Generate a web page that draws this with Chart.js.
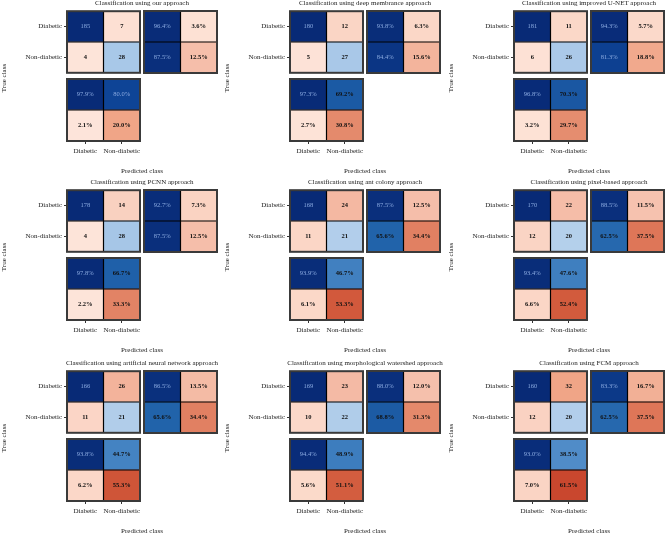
<!DOCTYPE html>
<html>
<head>
<meta charset="utf-8">
<script src="https://cdn.jsdelivr.net/npm/chart.js@4/dist/chart.umd.min.js"></script>
<style>
  html, body { margin: 0; padding: 0; background: #fff; }
  #fig { position: relative; width: 665px; height: 536px; overflow: hidden; font-family: 'Liberation Serif', serif; color: #222; }
  #fig canvas { position: absolute; }
  .lbl { position: absolute; white-space: nowrap; font-size: 7px; line-height: 1; transform: translate(-50%, -50%); }
  .rot { transform: translate(-50%, -50%) rotate(-90deg); }
</style>
</head>
<body>
<div id="fig"></div>
<script>
// data, one entry per panel (left to right, top to bottom)
const titles = [
  'Classification using our approach',
  'Classification using deep membrance approach',
  'Classification using improved U-NET approach',
  'Classification using PCNN approach',
  'Classification using ant colony approach',
  'Classification using pixel-based approach',
  'Classification using artificial neural network approach',
  'Classification using morphological watershed approach',
  'Classification using FCM approach'
];
const classLabels = ['Diabetic', 'Non-diabetic'];

// confusion counts
const trueDiabPredDiab = [185, 180, 181, 178, 168, 170, 166, 169, 160];
const trueDiabPredNon  = [7, 12, 11, 14, 24, 22, 26, 23, 32];
const trueNonPredDiab  = [4, 5, 6, 4, 11, 12, 11, 10, 12];
const trueNonPredNon   = [28, 27, 26, 28, 21, 20, 21, 22, 20];

// row summary (%)
const rowCorrectDiab = [96.4, 93.8, 94.3, 92.7, 87.5, 88.5, 86.5, 88.0, 83.3];
const rowWrongDiab   = [3.6, 6.3, 5.7, 7.3, 12.5, 11.5, 13.5, 12.0, 16.7];
const rowCorrectNon  = [87.5, 84.4, 81.3, 87.5, 65.6, 62.5, 65.6, 68.8, 62.5];
const rowWrongNon    = [12.5, 15.6, 18.8, 12.5, 34.4, 37.5, 34.4, 31.3, 37.5];

// column summary (%)
const colCorrectDiab = [97.9, 97.3, 96.8, 97.8, 93.9, 93.4, 93.8, 94.4, 93.0];
const colCorrectNon  = [80.0, 69.2, 70.3, 66.7, 46.7, 47.6, 44.7, 48.9, 38.5];
const colWrongDiab   = [2.1, 2.7, 3.2, 2.2, 6.1, 6.6, 6.2, 5.6, 7.0];
const colWrongNon    = [20.0, 30.8, 29.7, 33.3, 53.3, 52.4, 55.3, 51.1, 61.5];

// layout
const FONT = "'Liberation Serif', serif";
const panelX = [0, 223, 447];
const panelY = [0, 179, 360];

// colour ramps
const blueStops = [[0, [222, 235, 247]], [0.15, [169, 200, 232]], [0.385, [80, 140, 200]], [0.47, [64, 128, 192]],
  [0.66, [32, 98, 170]], [0.70, [26, 88, 162]], [0.80, [14, 68, 150]], [0.86, [10, 48, 125]], [1, [8, 42, 118]]];
const redStops = [[0, [252, 232, 226]], [0.04, [253, 224, 210]], [0.125, [245, 190, 170]], [0.20, [240, 165, 135]],
  [0.31, [228, 138, 108]], [0.375, [222, 118, 88]], [0.53, [210, 90, 60]], [0.62, [200, 70, 45]], [1, [160, 20, 30]]];

function ramp(stops, t) {
  t = Math.max(0, Math.min(1, t));
  for (let i = 1; i < stops.length; i++) {
    if (t <= stops[i][0]) {
      const [t0, c0] = stops[i - 1], [t1, c1] = stops[i];
      const f = (t - t0) / (t1 - t0);
      return 'rgb(' + c0.map((c, k) => Math.round(c + (c1[k] - c) * f)).join(',') + ')';
    }
  }
  return 'rgb(' + stops[stops.length - 1][1].join(',') + ')';
}

function cell(value, kind, t, text) {
  const dark = kind === 'blue' && t >= 0.75;
  return {
    text: text,
    color: ramp(kind === 'blue' ? blueStops : redStops, t),
    ink: dark ? '#8aaae0' : '#111',
    bold: !dark
  };
}
const pct = v => v.toFixed(1) + '%';

// draws cell texts, inner lines and frame
const cellPlugin = {
  id: 'cells',
  afterDatasetsDraw(chart) {
    const ctx = chart.ctx, area = chart.chartArea;
    const xs = chart.scales.x, ys = chart.scales.y;
    ctx.save();
    ctx.strokeStyle = '#000';
    ctx.lineWidth = 1.2;
    const mx = xs.getPixelForValue(1);
    const my = (ys.getPixelForValue(0) + ys.getPixelForValue(1)) / 2;
    ctx.beginPath();
    ctx.moveTo(mx, area.top); ctx.lineTo(mx, area.bottom);
    ctx.moveTo(area.left, my); ctx.lineTo(area.right, my);
    ctx.stroke();
    ctx.strokeStyle = '#3a3a3a';
    ctx.lineWidth = 2;
    ctx.strokeRect(area.left, area.top, area.right - area.left, area.bottom - area.top);
    ctx.textAlign = 'center';
    ctx.textBaseline = 'middle';
    chart.data.datasets.forEach((ds, di) => {
      chart.getDatasetMeta(di).data.forEach((el, j) => {
        const c = ds.cells[j];
        const p = el.getCenterPoint();
        ctx.font = (c.bold ? 'bold ' : '') + '6.5px ' + FONT;
        ctx.fillStyle = c.ink;
        ctx.fillText(c.text, p.x, p.y);
      });
    });
    ctx.restore();
  }
};

const fig = document.getElementById('fig');

function heatmap(rect, cells, opts) {
  const pad = 6;
  const axisW = opts.yAxis ? 56 : 0;
  const axisH = opts.xAxis ? 18 : 0;
  const w = rect.w + 2 * pad + axisW, h = rect.h + 2 * pad + axisH;
  const cv = document.createElement('canvas');
  cv.width = w; cv.height = h;
  cv.style.left = (rect.x - pad - axisW) + 'px';
  cv.style.top = (rect.y - pad) + 'px';
  cv.style.width = w + 'px'; cv.style.height = h + 'px';
  fig.appendChild(cv);
  new Chart(cv, {
    type: 'bar',
    data: {
      labels: classLabels,
      datasets: [0, 1].map(c => ({
        data: cells.map(() => 1),
        cells: cells.map(row => row[c]),
        backgroundColor: cells.map(row => row[c].color),
        borderWidth: 0,
        categoryPercentage: 1,
        barPercentage: 1
      }))
    },
    options: {
      indexAxis: 'y',
      responsive: false,
      animation: false,
      layout: { padding: pad },
      plugins: { legend: { display: false }, tooltip: { enabled: false } },
      scales: {
        x: {
          type: 'linear', stacked: true, min: 0, max: 2,
          display: !!opts.xAxis,
          afterFit: s => { s.height = axisH; },
          afterBuildTicks: s => { s.ticks = [{ value: 0.5 }, { value: 1.5 }]; },
          ticks: { callback: (v, i) => classLabels[i], autoSkip: false, maxRotation: 0, padding: 3,
                   color: '#222', font: { family: FONT, size: 7 } },
          grid: { drawOnChartArea: false, tickLength: 3, color: '#333' },
          border: { display: false }
        },
        y: {
          stacked: true,
          display: !!opts.yAxis,
          afterFit: s => { s.width = axisW; },
          ticks: { padding: 2, color: '#222', font: { family: FONT, size: 7 } },
          grid: { offset: false, drawOnChartArea: false, tickLength: 3, color: '#333' },
          border: { display: false }
        }
      }
    },
    plugins: [cellPlugin]
  });
}

function label(text, x, y, rotate) {
  const d = document.createElement('div');
  d.className = 'lbl' + (rotate ? ' rot' : '');
  d.textContent = text;
  d.style.left = x + 'px';
  d.style.top = y + 'px';
  fig.appendChild(d);
}

titles.forEach((title, p) => {
  const ox = panelX[p % 3], oy = panelY[Math.floor(p / 3)];
  const a = trueDiabPredDiab[p], b = trueDiabPredNon[p], c = trueNonPredDiab[p], d = trueNonPredNon[p];
  const m = Math.max(a, b, c, d);

  heatmap({ x: ox + 67, y: oy + 11, w: 73, h: 62 }, [
    [cell(a, 'blue', a / m, String(a)), cell(b, 'red', b / m, String(b))],
    [cell(c, 'red', c / m, String(c)), cell(d, 'blue', d / m, String(d))]
  ], { yAxis: true });

  heatmap({ x: ox + 144, y: oy + 11, w: 73, h: 62 }, [
    [cell(rowCorrectDiab[p], 'blue', rowCorrectDiab[p] / 100, pct(rowCorrectDiab[p])),
     cell(rowWrongDiab[p], 'red', rowWrongDiab[p] / 100, pct(rowWrongDiab[p]))],
    [cell(rowCorrectNon[p], 'blue', rowCorrectNon[p] / 100, pct(rowCorrectNon[p])),
     cell(rowWrongNon[p], 'red', rowWrongNon[p] / 100, pct(rowWrongNon[p]))]
  ], {});

  heatmap({ x: ox + 67, y: oy + 79, w: 73, h: 62 }, [
    [cell(colCorrectDiab[p], 'blue', colCorrectDiab[p] / 100, pct(colCorrectDiab[p])),
     cell(colCorrectNon[p], 'blue', colCorrectNon[p] / 100, pct(colCorrectNon[p]))],
    [cell(colWrongDiab[p], 'red', colWrongDiab[p] / 100, pct(colWrongDiab[p])),
     cell(colWrongNon[p], 'red', colWrongNon[p] / 100, pct(colWrongNon[p]))]
  ], { xAxis: true });

  label(title, ox + 142, oy + 3);
  label('Predicted class', ox + 142, oy + 171);
  label('True class', ox + 4, oy + 78, true);
});
</script>
</body>
</html>
